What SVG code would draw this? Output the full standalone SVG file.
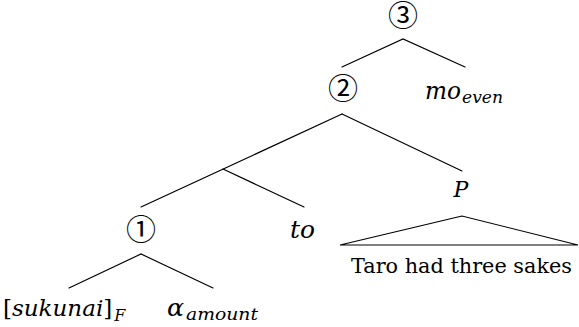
<svg xmlns="http://www.w3.org/2000/svg" width="579" height="327" viewBox="0 0 579 327">
<style>
  .edge { stroke: #000; stroke-width: 1.2; fill: none; stroke-linecap: round; }
  .circ { font-family: 'Noto Sans CJK JP', 'DejaVu Sans', sans-serif; font-size: 30px; text-anchor: middle; fill: #000; }
  .serif { font-family: 'DejaVu Serif', 'Liberation Serif', 'Noto Serif', Times, serif; }
  text.it { font-style: italic; fill: #000; }
  text.rm { font-style: normal; fill: #000; }
</style>
<rect width="579" height="327" fill="#fff"/>
<g id="connectors">
  <polyline class="edge" points="342,67 403,39 465,67"/>
  <line class="edge" x1="342" y1="114" x2="141" y2="207"/>
  <line class="edge" x1="342" y1="114" x2="462" y2="171"/>
  <line class="edge" x1="223" y1="169" x2="304" y2="207"/>
  <polyline class="edge" points="69,288 141,254 213,288"/>
  <polygon class="edge" points="462,216 340,245 578,245"/>
</g>
<g id="node3"><text class="circ" x="403" y="26">③</text></g>
<g id="node2"><text class="circ" x="343" y="99">②</text></g>
<g id="node1"><text class="circ" x="141" y="240">①</text></g>
<g class="serif">
<g id="mo"><text class="it" x="425" y="99" font-size="24" textLength="36" lengthAdjust="spacingAndGlyphs">mo</text><text class="it" x="462" y="103" font-size="17" textLength="41" lengthAdjust="spacingAndGlyphs">even</text></g>
<g id="to"><text class="it" x="290" y="238" font-size="24" textLength="25" lengthAdjust="spacingAndGlyphs">to</text></g>
<g id="P"><text class="it" x="461" y="197" font-size="22" text-anchor="middle">P</text></g>
<g id="sentence"><text class="rm" x="351" y="273" font-size="20.5" textLength="221" lengthAdjust="spacingAndGlyphs">Taro had three sakes</text></g>
<g id="sukunai"><text class="rm" x="3" y="316" font-size="23">[<tspan font-style="italic">sukunai</tspan>]<tspan font-style="italic" font-size="16" dx="2" dy="5">F</tspan></text></g>
<g id="alpha"><text class="it" x="167" y="316" font-size="24" textLength="17" lengthAdjust="spacingAndGlyphs">α</text><text class="it" x="186" y="320" font-size="17" textLength="72" lengthAdjust="spacingAndGlyphs">amount</text></g>
</g>
</svg>
